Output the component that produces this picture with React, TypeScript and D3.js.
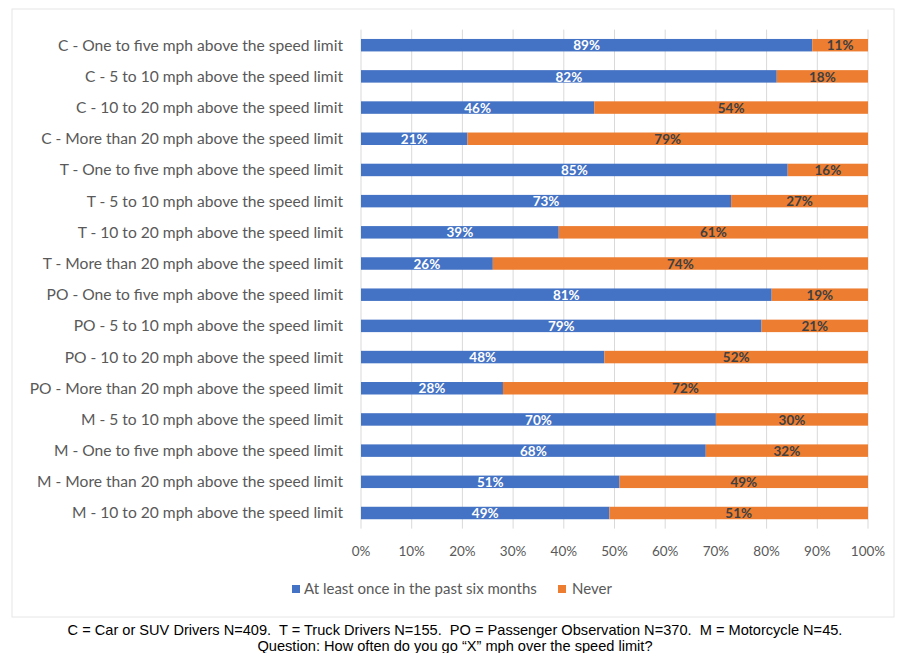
import React from "react";
import * as d3 from "d3";

const categories = [
  "C - One to five mph above the speed limit",
  "C - 5 to 10 mph above the speed limit",
  "C - 10 to 20 mph above the speed limit",
  "C - More than 20 mph above the speed limit",
  "T - One to five mph above the speed limit",
  "T - 5 to 10 mph above the speed limit",
  "T - 10 to 20 mph above the speed limit",
  "T - More than 20 mph above the speed limit",
  "PO - One to five mph above the speed limit",
  "PO - 5 to 10 mph above the speed limit",
  "PO - 10 to 20 mph above the speed limit",
  "PO - More than 20 mph above the speed limit",
  "M - 5 to 10 mph above the speed limit",
  "M - One to five mph above the speed limit",
  "M - More than 20 mph above the speed limit",
  "M - 10 to 20 mph above the speed limit",
];
const atLeastOnce = [89, 82, 46, 21, 85, 73, 39, 26, 81, 79, 48, 28, 70, 68, 51, 49];
const never = [11, 18, 54, 79, 16, 27, 61, 74, 19, 21, 52, 72, 30, 32, 49, 51];
const seriesNames = ["At least once in the past six months", "Never"];
const xTicks = [0, 0.1, 0.2, 0.3, 0.4, 0.5, 0.6, 0.7, 0.8, 0.9, 1.0];
const captionLines = [
  "C = Car or SUV Drivers N=409.  T = Truck Drivers N=155.  PO = Passenger Observation N=370.  M = Motorcycle N=45.",
  "Question: How often do you go \u201cX\u201d mph over the speed limit?",
];

const BLUE = "#4472C4";
const ORANGE = "#ED7D31";
const FONT = "Lato, 'Open Sans', sans-serif";

export default function App() {
  const W = 899;
  const H = 653;
  const x = d3.scaleLinear().domain([0, 1]).range([361, 868]);
  const y = d3
    .scaleBand<string>()
    .domain(categories)
    .range([29.6, 528.6])
    .paddingInner(0.6)
    .paddingOuter(0.3);
  const pct = d3.format(".0%");

  const rows = categories.map((c, i) => {
    const tot = atLeastOnce[i] + never[i];
    const a = atLeastOnce[i] / tot;
    return { c, a, aLabel: atLeastOnce[i] + "%", nLabel: never[i] + "%" };
  });

  return (
    <svg width={W} height={H} style={{ position: "absolute", left: 0, top: 0, background: "#fff" }}>
      <rect x={12} y={9} width={882} height={608} fill="#fff" stroke="#e6e6e6" strokeWidth={1} />
      {xTicks.map((t) => (
        <line key={t} x1={x(t)} x2={x(t)} y1={29.6} y2={528.6} stroke="#d9d9d9" strokeWidth={1} />
      ))}
      {rows.map((r) => {
        const yy = y(r.c)!;
        const bh = y.bandwidth();
        return (
          <g key={r.c}>
            <text
              x={343}
              y={yy + bh / 2}
              dy="0.35em"
              textAnchor="end"
              fontFamily={FONT}
              fontSize={15.6}
              fill="#595959"
            >
              {r.c}
            </text>
            <rect x={x(0)} y={yy} width={x(r.a) - x(0)} height={bh} fill={BLUE} />
            <rect x={x(r.a)} y={yy} width={x(1) - x(r.a)} height={bh} fill={ORANGE} />
            <text
              x={(x(0) + x(r.a)) / 2}
              y={yy + bh / 2}
              dy="0.38em"
              textAnchor="middle"
              fontFamily={FONT}
              fontSize={13.5}
              fontWeight="bold"
              fill="#ffffff"
            >
              {r.aLabel}
            </text>
            <text
              x={(x(r.a) + x(1)) / 2}
              y={yy + bh / 2}
              dy="0.38em"
              textAnchor="middle"
              fontFamily={FONT}
              fontSize={13.5}
              fontWeight="bold"
              fill="#404040"
            >
              {r.nLabel}
            </text>
          </g>
        );
      })}
      {xTicks.map((t) => (
        <text
          key={"l" + t}
          x={x(t)}
          y={551}
          dy="0.35em"
          textAnchor="middle"
          fontFamily={FONT}
          fontSize={13.5}
          fill="#595959"
        >
          {pct(t)}
        </text>
      ))}
      <g>
        <rect x={292} y={585} width={8} height={8} fill={BLUE} />
        <text x={304} y={589} dy="0.35em" fontFamily={FONT} fontSize={15} fill="#595959">
          {seriesNames[0]}
        </text>
        <rect x={558} y={585} width={8} height={8} fill={ORANGE} />
        <text x={572} y={589} dy="0.35em" fontFamily={FONT} fontSize={15} fill="#595959">
          {seriesNames[1]}
        </text>
      </g>
      {captionLines.map((l, i) => (
        <text
          key={i}
          x={455}
          y={635 + i * 15.5}
          textAnchor="middle"
          fontFamily="'Liberation Sans', Arial, sans-serif"
          fontSize={14.6}
          fill="#000"
          style={{ whiteSpace: "pre" }}
        >
          {l}
        </text>
      ))}
    </svg>
  );
}
